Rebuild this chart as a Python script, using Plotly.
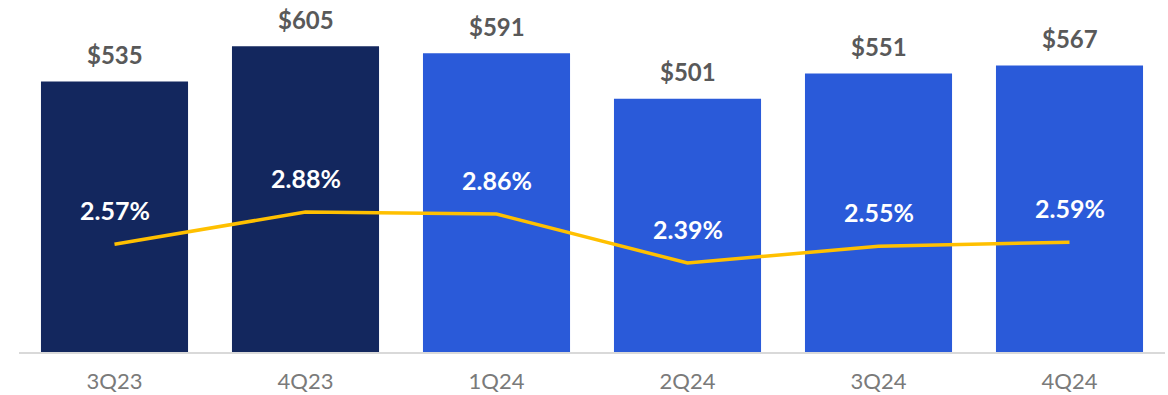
import plotly.graph_objects as go

quarters = ["3Q23", "4Q23", "1Q24", "2Q24", "3Q24", "4Q24"]
amounts = [535, 605, 591, 501, 551, 567]
rates = [2.57, 2.88, 2.86, 2.39, 2.55, 2.59]
bar_colors = ["#13275E", "#13275E", "#2A5AD9", "#2A5AD9", "#2A5AD9", "#2A5AD9"]

FONT = "Lato"

fig = go.Figure()

fig.add_trace(go.Bar(
    x=quarters, y=amounts,
    marker=dict(color=bar_colors, line=dict(width=0)),
    hoverinfo="skip",
))

fig.add_trace(go.Scatter(
    x=quarters, y=rates, yaxis="y2",
    mode="lines",
    line=dict(color="#FFC000", width=3.5),
    hoverinfo="skip",
))

annotations = []
for q, a in zip(quarters, amounts):
    annotations.append(dict(
        x=q, y=a, xref="x", yref="y",
        text=f"<b>${a}</b>", showarrow=False,
        yanchor="middle", yshift=27,
        font=dict(family=FONT, size=24, color="#595959"),
    ))
for q, r in zip(quarters, rates):
    annotations.append(dict(
        x=q, y=r, xref="x", yref="y2",
        text=f"<b>{r:.2f}%</b>", showarrow=False,
        yanchor="middle", yshift=34,
        font=dict(family=FONT, size=25, color="#FFFFFF"),
    ))

fig.update_layout(
    width=1168, height=395,
    margin=dict(l=19, r=3, t=0, b=43),
    paper_bgcolor="white", plot_bgcolor="white",
    showlegend=False,
    bargap=0.23,
    xaxis=dict(
        showgrid=False, zeroline=False, automargin=False,
        showline=True, linecolor="#D9D9D9", linewidth=2,
        ticks="", tickfont=dict(family=FONT, size=22, color="#7A7A7A"),
        ticklabelstandoff=9,
    ),
    yaxis=dict(range=[0, 696.4], visible=False, showgrid=False, zeroline=False),
    yaxis2=dict(range=[1.534, 4.919], overlaying="y", side="right",
                visible=False, showgrid=False, zeroline=False),
    annotations=annotations,
)

fig.write_html("out.html")
